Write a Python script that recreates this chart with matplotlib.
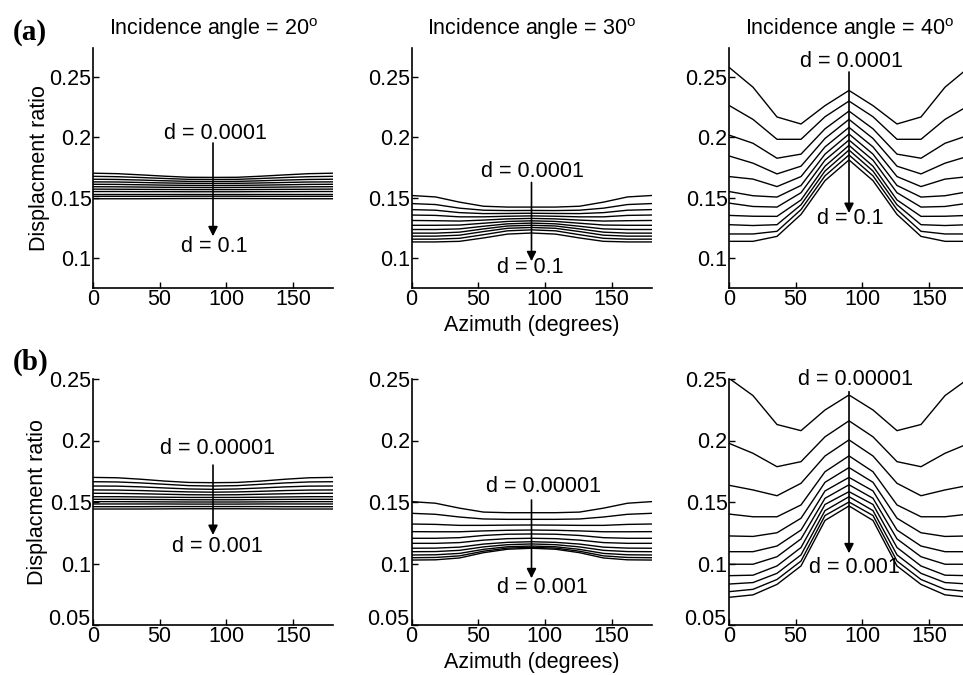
import matplotlib
matplotlib.use("Agg")
import matplotlib.pyplot as plt
from matplotlib.transforms import ScaledTranslation

plt.rcParams['font.family'] = ['Liberation Sans', 'DejaVu Sans']
plt.rcParams['mathtext.fontset'] = 'custom'
plt.rcParams['mathtext.rm'] = 'Liberation Sans'

azimuth = [0, 18, 36, 54, 72, 90, 108, 126, 144, 162, 180]
angles = [20, 30, 40]

# Row (a): d = 0.0001 ... 0.1
a20 = [
    [0.1702, 0.1698, 0.1688, 0.1677, 0.1668, 0.1667, 0.1668, 0.1677, 0.1688, 0.1698, 0.1702],
    [0.1676, 0.1673, 0.1666, 0.1658, 0.1651, 0.1650, 0.1651, 0.1658, 0.1666, 0.1673, 0.1676],
    [0.1652, 0.1650, 0.1645, 0.1639, 0.1634, 0.1633, 0.1634, 0.1639, 0.1645, 0.1650, 0.1652],
    [0.1630, 0.1629, 0.1625, 0.1621, 0.1618, 0.1617, 0.1618, 0.1621, 0.1625, 0.1629, 0.1630],
    [0.1610, 0.1609, 0.1606, 0.1603, 0.1601, 0.1600, 0.1601, 0.1603, 0.1606, 0.1609, 0.1610],
    [0.1590, 0.1589, 0.1587, 0.1585, 0.1584, 0.1583, 0.1584, 0.1585, 0.1587, 0.1589, 0.1590],
    [0.1570, 0.1569, 0.1568, 0.1567, 0.1566, 0.1566, 0.1566, 0.1567, 0.1568, 0.1569, 0.1570],
    [0.1550, 0.1550, 0.1549, 0.1549, 0.1548, 0.1548, 0.1548, 0.1549, 0.1549, 0.1550, 0.1550],
    [0.1530, 0.1530, 0.1530, 0.1530, 0.1530, 0.1530, 0.1530, 0.1530, 0.1530, 0.1530, 0.1530],
    [0.1510, 0.1510, 0.1510, 0.1510, 0.1511, 0.1511, 0.1511, 0.1510, 0.1510, 0.1510, 0.1510],
    [0.1490, 0.1490, 0.1490, 0.1491, 0.1492, 0.1492, 0.1492, 0.1491, 0.1490, 0.1490, 0.1490],
]
a30 = [
    [0.1517, 0.1505, 0.1462, 0.1428, 0.1421, 0.1421, 0.1421, 0.1428, 0.1462, 0.1505, 0.1517],
    [0.1450, 0.1442, 0.1412, 0.1395, 0.1392, 0.1393, 0.1392, 0.1395, 0.1412, 0.1442, 0.1450],
    [0.1400, 0.1395, 0.1375, 0.1367, 0.1368, 0.1370, 0.1368, 0.1367, 0.1375, 0.1395, 0.1400],
    [0.1355, 0.1352, 0.1340, 0.1340, 0.1345, 0.1348, 0.1345, 0.1340, 0.1340, 0.1352, 0.1355],
    [0.1310, 0.1308, 0.1305, 0.1313, 0.1323, 0.1327, 0.1323, 0.1313, 0.1305, 0.1308, 0.1310],
    [0.1270, 0.1270, 0.1272, 0.1287, 0.1302, 0.1307, 0.1302, 0.1287, 0.1272, 0.1270, 0.1270],
    [0.1235, 0.1235, 0.1240, 0.1262, 0.1282, 0.1288, 0.1282, 0.1262, 0.1240, 0.1235, 0.1235],
    [0.1205, 0.1205, 0.1213, 0.1240, 0.1264, 0.1270, 0.1264, 0.1240, 0.1213, 0.1205, 0.1205],
    [0.1180, 0.1180, 0.1188, 0.1218, 0.1245, 0.1252, 0.1245, 0.1218, 0.1188, 0.1180, 0.1180],
    [0.1155, 0.1155, 0.1162, 0.1192, 0.1224, 0.1232, 0.1224, 0.1192, 0.1162, 0.1155, 0.1155],
    [0.1132, 0.1132, 0.1137, 0.1165, 0.1197, 0.1206, 0.1197, 0.1165, 0.1137, 0.1132, 0.1132],
]
a40 = [
    [0.2580, 0.2415, 0.2168, 0.2110, 0.2262, 0.2388, 0.2262, 0.2110, 0.2168, 0.2415, 0.2580],
    [0.2264, 0.2148, 0.1983, 0.1983, 0.2170, 0.2300, 0.2170, 0.1983, 0.1983, 0.2148, 0.2264],
    [0.2018, 0.1950, 0.1826, 0.1860, 0.2070, 0.2217, 0.2070, 0.1860, 0.1826, 0.1950, 0.2018],
    [0.1845, 0.1785, 0.1696, 0.1760, 0.1990, 0.2148, 0.1990, 0.1760, 0.1696, 0.1785, 0.1845],
    [0.1674, 0.1653, 0.1591, 0.1674, 0.1920, 0.2082, 0.1920, 0.1674, 0.1591, 0.1653, 0.1674],
    [0.1550, 0.1515, 0.1504, 0.1600, 0.1860, 0.2027, 0.1860, 0.1600, 0.1504, 0.1515, 0.1550],
    [0.1454, 0.1426, 0.1421, 0.1540, 0.1810, 0.1977, 0.1810, 0.1540, 0.1421, 0.1426, 0.1454],
    [0.1352, 0.1345, 0.1344, 0.1480, 0.1760, 0.1933, 0.1760, 0.1480, 0.1344, 0.1345, 0.1352],
    [0.1275, 0.1268, 0.1275, 0.1440, 0.1720, 0.1894, 0.1720, 0.1440, 0.1275, 0.1268, 0.1275],
    [0.1198, 0.1198, 0.1220, 0.1400, 0.1680, 0.1853, 0.1680, 0.1400, 0.1220, 0.1198, 0.1198],
    [0.1137, 0.1137, 0.1178, 0.1360, 0.1640, 0.1812, 0.1640, 0.1360, 0.1178, 0.1137, 0.1137],
]

# Row (b): d = 0.00001 ... 0.001
b20 = [
    [0.1700, 0.1697, 0.1685, 0.1670, 0.1659, 0.1657, 0.1659, 0.1670, 0.1685, 0.1697, 0.1700],
    [0.1665, 0.1663, 0.1655, 0.1644, 0.1633, 0.1630, 0.1633, 0.1644, 0.1655, 0.1663, 0.1665],
    [0.1630, 0.1629, 0.1623, 0.1614, 0.1606, 0.1603, 0.1606, 0.1614, 0.1623, 0.1629, 0.1630],
    [0.1598, 0.1597, 0.1593, 0.1587, 0.1582, 0.1580, 0.1582, 0.1587, 0.1593, 0.1597, 0.1598],
    [0.1571, 0.1570, 0.1567, 0.1563, 0.1559, 0.1558, 0.1559, 0.1563, 0.1567, 0.1570, 0.1571],
    [0.1543, 0.1543, 0.1541, 0.1539, 0.1537, 0.1537, 0.1537, 0.1539, 0.1541, 0.1543, 0.1543],
    [0.1522, 0.1522, 0.1521, 0.1520, 0.1518, 0.1518, 0.1518, 0.1520, 0.1521, 0.1522, 0.1522],
    [0.1503, 0.1503, 0.1502, 0.1501, 0.1500, 0.1500, 0.1500, 0.1501, 0.1502, 0.1503, 0.1503],
    [0.1484, 0.1484, 0.1484, 0.1484, 0.1483, 0.1483, 0.1483, 0.1484, 0.1484, 0.1484, 0.1484],
    [0.1462, 0.1462, 0.1462, 0.1463, 0.1463, 0.1463, 0.1463, 0.1463, 0.1462, 0.1462, 0.1462],
    [0.1443, 0.1443, 0.1443, 0.1444, 0.1445, 0.1445, 0.1445, 0.1444, 0.1443, 0.1443, 0.1443],
]
b30 = [
    [0.1503, 0.1490, 0.1450, 0.1418, 0.1413, 0.1413, 0.1413, 0.1418, 0.1450, 0.1490, 0.1503],
    [0.1408, 0.1400, 0.1378, 0.1362, 0.1359, 0.1359, 0.1359, 0.1362, 0.1378, 0.1400, 0.1408],
    [0.1321, 0.1318, 0.1310, 0.1310, 0.1312, 0.1313, 0.1312, 0.1310, 0.1310, 0.1318, 0.1321],
    [0.1259, 0.1258, 0.1258, 0.1265, 0.1270, 0.1272, 0.1270, 0.1265, 0.1258, 0.1258, 0.1259],
    [0.1205, 0.1205, 0.1210, 0.1228, 0.1238, 0.1240, 0.1238, 0.1228, 0.1210, 0.1205, 0.1205],
    [0.1164, 0.1164, 0.1170, 0.1190, 0.1202, 0.1205, 0.1202, 0.1190, 0.1170, 0.1164, 0.1164],
    [0.1124, 0.1125, 0.1133, 0.1158, 0.1172, 0.1177, 0.1172, 0.1158, 0.1133, 0.1125, 0.1124],
    [0.1096, 0.1097, 0.1107, 0.1135, 0.1153, 0.1159, 0.1153, 0.1135, 0.1107, 0.1097, 0.1096],
    [0.1069, 0.1071, 0.1082, 0.1115, 0.1136, 0.1142, 0.1136, 0.1115, 0.1082, 0.1071, 0.1069],
    [0.1047, 0.1049, 0.1062, 0.1100, 0.1125, 0.1132, 0.1125, 0.1100, 0.1062, 0.1049, 0.1047],
    [0.1028, 0.1030, 0.1045, 0.1088, 0.1116, 0.1124, 0.1116, 0.1088, 0.1045, 0.1030, 0.1028],
]
b40 = [
    [0.2506, 0.2365, 0.2130, 0.2080, 0.2248, 0.2370, 0.2248, 0.2080, 0.2130, 0.2365, 0.2506],
    [0.1977, 0.1896, 0.1787, 0.1828, 0.2030, 0.2160, 0.2030, 0.1828, 0.1787, 0.1896, 0.1977],
    [0.1636, 0.1598, 0.1551, 0.1652, 0.1874, 0.2005, 0.1874, 0.1652, 0.1551, 0.1598, 0.1636],
    [0.1402, 0.1380, 0.1380, 0.1476, 0.1746, 0.1875, 0.1746, 0.1476, 0.1380, 0.1380, 0.1402],
    [0.1224, 0.1220, 0.1250, 0.1368, 0.1660, 0.1780, 0.1660, 0.1368, 0.1250, 0.1220, 0.1224],
    [0.1096, 0.1096, 0.1142, 0.1272, 0.1590, 0.1700, 0.1590, 0.1272, 0.1142, 0.1096, 0.1096],
    [0.0994, 0.0994, 0.1055, 0.1200, 0.1530, 0.1640, 0.1530, 0.1200, 0.1055, 0.0994, 0.0994],
    [0.0901, 0.0905, 0.0980, 0.1130, 0.1480, 0.1584, 0.1480, 0.1130, 0.0980, 0.0905, 0.0901],
    [0.0833, 0.0845, 0.0920, 0.1070, 0.1430, 0.1543, 0.1430, 0.1070, 0.0920, 0.0845, 0.0833],
    [0.0771, 0.0790, 0.0870, 0.1020, 0.1390, 0.1500, 0.1390, 0.1020, 0.0870, 0.0790, 0.0771],
    [0.0725, 0.0745, 0.0830, 0.0980, 0.1350, 0.1468, 0.1350, 0.0980, 0.0830, 0.0745, 0.0725],
]

row_data = [[a20, a30, a40], [b20, b30, b40]]
d_top_labels = ['d = 0.0001', 'd = 0.00001']
d_bot_labels = ['d = 0.1', 'd = 0.001']
row_tags = ['(a)', '(b)']

# annotation placements (data coords): (text_top_x, text_top_y, arrow_y0, arrow_y1, text_bot_x, text_bot_y)
annot = [
    [(92, 0.2034, 0.1952, 0.1179, 91, 0.1096),
     (90.5, 0.1716, 0.1625, 0.0972, 88.7, 0.0917),
     (92, 0.2624, 0.2541, 0.1372, 90.7, 0.1330)],
    [(93.7, 0.1937, 0.1800, 0.1232, 93, 0.1137),
     (99, 0.1625, 0.1516, 0.0880, 98, 0.0807),
     (95, 0.2492, 0.2397, 0.1083, 94, 0.0969)],
]

W, H = 963, 675
fig = plt.figure(figsize=(W / 100, H / 100), dpi=100)

col_left = [93, 411.5, 729]
ax_w = 240
row_box = [(48, 288), (379, 625)]
ylims = [(0.075, 0.274), (0.05, 0.25)]
yticks = [[0.1, 0.15, 0.2, 0.25], [0.05, 0.1, 0.15, 0.2, 0.25]]
FS = 15.5

for r in range(2):
    top, bot = row_box[r]
    for c in range(3):
        ax = fig.add_axes([col_left[c] / W, 1 - bot / H, ax_w / W, (bot - top) / H])
        for line in row_data[r][c]:
            ax.plot(azimuth, line, color='black', lw=1.0)
        ax.set_xlim(0, 180)
        ax.set_ylim(*ylims[r])
        ax.set_xticks([0, 50, 100, 150])
        ax.set_yticks(yticks[r])
        ax.set_yticklabels([('%g' % v) for v in yticks[r]])
        ax.spines['top'].set_visible(False)
        ax.spines['right'].set_visible(False)
        ax.spines['left'].set_linewidth(1.2)
        ax.spines['bottom'].set_linewidth(1.2)
        ax.tick_params(direction='in', length=4, width=1, labelsize=FS, pad=1)
        if r == 1:
            # nudge the lowest y label up so it clears the "0" below it
            lab = ax.get_yticklabels()[0]
            lab.set_transform(lab.get_transform() + ScaledTranslation(-1 / 100, 8 / 100, fig.dpi_scale_trans))
        tx, ty, ay0, ay1, bx, by = annot[r][c]
        ax.text(tx, ty, d_top_labels[r], ha='center', va='center', fontsize=FS)
        ax.annotate('', xy=(90, ay1), xytext=(90, ay0),
                    arrowprops=dict(arrowstyle='-|>', color='black', lw=1.2,
                                    mutation_scale=14, shrinkA=0, shrinkB=0))
        ax.text(bx, by, d_bot_labels[r], ha='center', va='center', fontsize=FS)
        if r == 0:
            ax.set_title('Incidence angle = %d$^{\\mathrm{o}}$' % angles[c], fontsize=FS, pad=9)
        if c == 0:
            ax.set_ylabel('Displacment ratio', fontsize=FS, labelpad=0)
            fig.text(13 / W, 1 - (32 if r == 0 else 362) / H, row_tags[r],
                     fontsize=21, fontweight='bold', family='Liberation Serif',
                     ha='left', va='center')
        if c == 1:
            ax.set_xlabel('Azimuth (degrees)', fontsize=FS, labelpad=3)

fig.savefig('out.png', dpi=100)
